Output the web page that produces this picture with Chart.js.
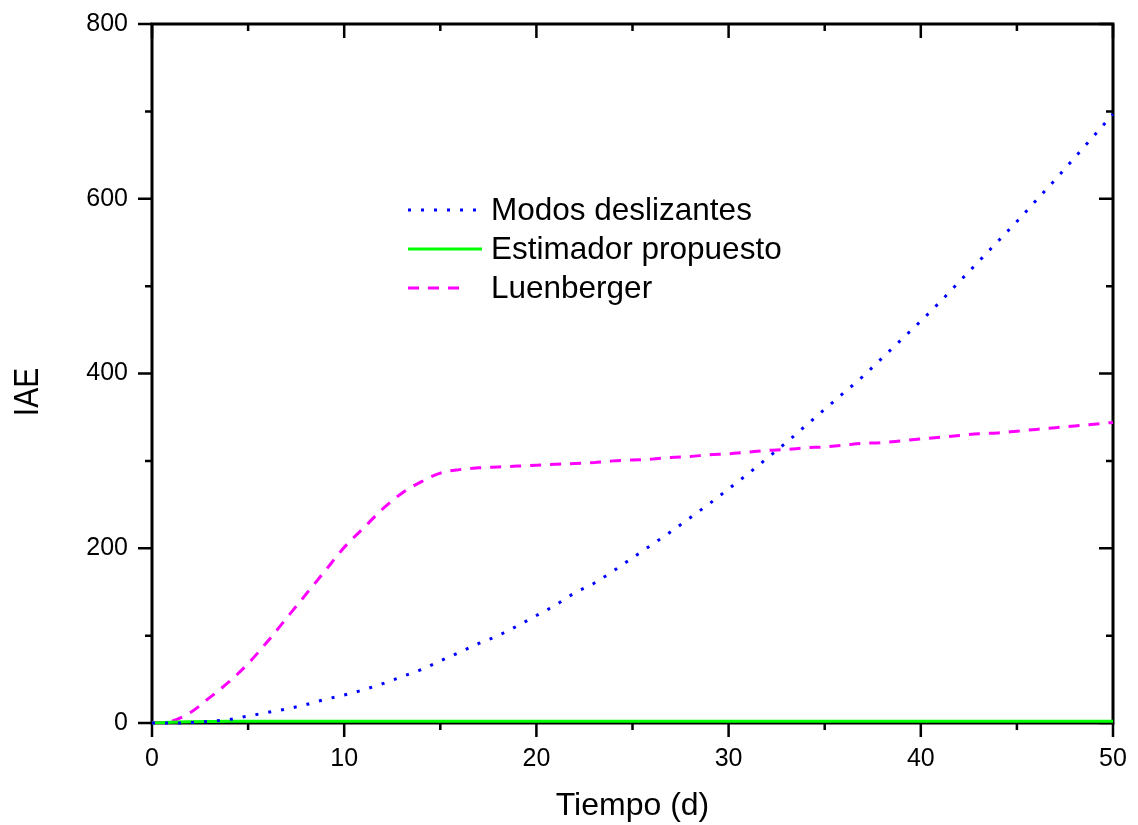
<!DOCTYPE html>
<html>
<head>
<meta charset="utf-8">
<script src="https://cdn.jsdelivr.net/npm/chart.js@4.4.1/dist/chart.umd.min.js"></script>
<style>
  html, body { margin: 0; padding: 0; background: #fff; }
</style>
</head>
<body>
<canvas id="chart1" width="1138" height="825"></canvas>
<script>
// tiempo en dias (eje x)
const tiempo = [0,1,2,3,4,5,6,7,8,9,10,11,12,13,14,15,16,17,18,19,20,
  21,22,23,24,25,26,27,28,29,30,31,32,33,34,35,36,37,38,39,40,
  41,42,43,44,45,46,47,48,49,50];

// IAE de cada observador
const modosDeslizantes = [0,0,0.5,2,4,8,12,16,21,27,32,38,45,53,61,71,81,91,100,111,
  123,135,149,160,174,189,204,219,235,251,268,285,303,321,340,359,378,397,418,439,
  460,482,505,528,551,574,598,622,647,672,697];
const estimadorPropuesto = [0,1,1.5,1.8,2,2,2,2,2,2,2,2,2,2,2,2,2,2,2,2,
  2,2,2,2,2,2,2,2,2,2,2,2,2,2,2,2,2,2,2,2,
  2,2,2,2,2,2,2,2,2,2,2];
const luenberger = [0,2,12,29,47,68,93,120,147,174,201,223,245,263,276,286,290,292,293,294,
  295,296,297,298,300,301,302,304,305,307,308,310,312,313,315,316,318,320,321,323,
  325,327,329,331,332,334,336,338,340,342,344];

const fuente = '"Liberation Sans", Arial, sans-serif';

// junta x e y en puntos para la escala lineal
function puntos(serie) {
  return tiempo.map((t, i) => ({ x: t, y: serie[i] }));
}

// marco negro con marcas mayores y menores
const marcoEjes = {
  id: 'marcoEjes',
  beforeDatasetsDraw(chart) {
    const ctx = chart.ctx;
    const a = chart.chartArea;
    const xs = chart.scales.x, ys = chart.scales.y;
    ctx.save();
    ctx.strokeStyle = '#000';
    ctx.lineWidth = 2.5;
    ctx.beginPath();
    for (let v = 0; v <= 50; v += 5) {
      const px = xs.getPixelForValue(v);
      const len = v % 10 === 0 ? 14 : 7;
      ctx.moveTo(px, a.bottom); ctx.lineTo(px, a.bottom + len);
      ctx.moveTo(px, a.top); ctx.lineTo(px, a.top + len);
    }
    for (let v = 0; v <= 800; v += 100) {
      const py = ys.getPixelForValue(v);
      const len = v % 200 === 0 ? 14 : 7;
      ctx.moveTo(a.left - len, py); ctx.lineTo(a.left, py);
      ctx.moveTo(a.right - len, py); ctx.lineTo(a.right, py);
    }
    ctx.stroke();
    ctx.lineWidth = 3;
    ctx.strokeRect(a.left, a.top, a.right - a.left, a.bottom - a.top);
    ctx.restore();
  },
  afterDraw(chart) {
    const ctx = chart.ctx;
    const a = chart.chartArea;
    ctx.save();
    ctx.fillStyle = '#000';
    ctx.font = '32px ' + fuente;
    ctx.textAlign = 'center';
    ctx.textBaseline = 'alphabetic';
    ctx.fillText('Tiempo (d)', (a.left + a.right) / 2, 815);
    ctx.translate(38, 392);
    ctx.rotate(-Math.PI / 2);
    ctx.scale(1, 1.15);
    ctx.font = '30px ' + fuente;
    ctx.fillText('IAE', 0, 0);
    ctx.restore();
  }
};

// leyenda dentro del area de trazado
const leyenda = {
  id: 'leyenda',
  afterDatasetsDraw(chart) {
    const ctx = chart.ctx;
    const filas = [210, 249, 288];
    const finLinea = [478, 482, 464];
    ctx.save();
    chart.data.datasets.forEach((ds, i) => {
      const y = filas[i];
      ctx.strokeStyle = ds.borderColor;
      ctx.lineWidth = ds.borderWidth;
      ctx.setLineDash(ds.borderDash || []);
      ctx.beginPath();
      ctx.moveTo(408, y);
      ctx.lineTo(finLinea[i], y);
      ctx.stroke();
      ctx.setLineDash([]);
      ctx.fillStyle = '#000';
      ctx.font = '31.5px ' + fuente;
      ctx.textAlign = 'left';
      ctx.textBaseline = 'alphabetic';
      ctx.fillText(ds.label, 491, y + 10);
    });
    ctx.restore();
  }
};

const data = {
  datasets: [
    {
      label: 'Modos deslizantes',
      data: puntos(modosDeslizantes),
      borderColor: '#0000ff',
      borderWidth: 3,
      borderDash: [3, 10],
      pointRadius: 0,
      cubicInterpolationMode: 'monotone',
      clip: false
    },
    {
      label: 'Estimador propuesto',
      data: puntos(estimadorPropuesto),
      borderColor: '#00ff00',
      borderWidth: 3,
      pointRadius: 0,
      cubicInterpolationMode: 'monotone',
      clip: false
    },
    {
      label: 'Luenberger',
      data: puntos(luenberger),
      borderColor: '#ff00ff',
      borderWidth: 3,
      borderDash: [11, 9],
      pointRadius: 0,
      cubicInterpolationMode: 'monotone',
      clip: false
    }
  ]
};

const config = {
  type: 'line',
  data: data,
  options: {
    responsive: false,
    animation: false,
    devicePixelRatio: 1,
    layout: { padding: { left: 0, top: 24, right: 25, bottom: 0 } },
    plugins: { legend: { display: false }, tooltip: { enabled: false } },
    scales: {
      x: {
        type: 'linear',
        min: 0, max: 50,
        grid: { display: false, drawTicks: false },
        border: { display: false },
        ticks: { stepSize: 10, color: '#000', padding: 21, maxRotation: 0,
          font: { family: fuente, size: 25 } },
        afterFit(s) {
          s.height = 102;
          s.paddingLeft = 0; s.paddingRight = 0;
        }
      },
      y: {
        min: 0, max: 800,
        grid: { display: false, drawTicks: false },
        border: { display: false },
        ticks: { stepSize: 200, color: '#000', padding: 24,
          font: { family: fuente, size: 25 } },
        afterFit(s) {
          s.width = 152;
          s.paddingTop = 0; s.paddingBottom = 0;
        }
      }
    }
  },
  plugins: [marcoEjes, leyenda]
};

const myChart = new Chart(document.getElementById('chart1'), config);
</script>
</body>
</html>
